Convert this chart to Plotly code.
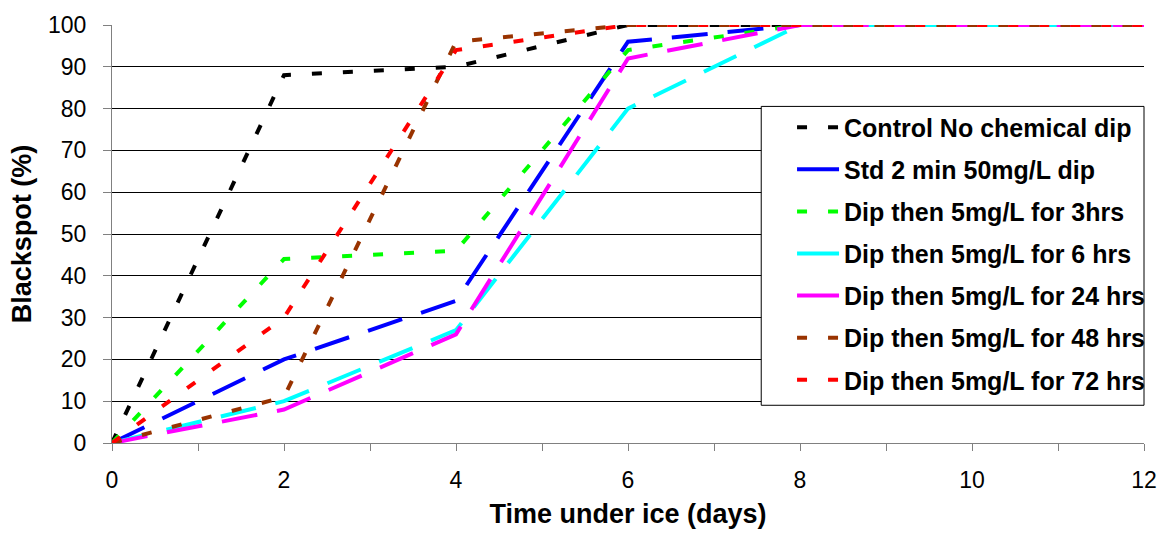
import plotly.graph_objects as go

days = [0, 2, 4, 6, 8, 10, 12]

series_names = [
    "Control No chemical dip",
    "Std 2 min 50mg/L dip",
    "Dip then 5mg/L for 3hrs",
    "Dip then 5mg/L for 6 hrs",
    "Dip then 5mg/L for 24 hrs",
    "Dip then 5mg/L for 48 hrs",
    "Dip then 5mg/L for 72 hrs",
]

control = [0, 88, 90, 100, 100, 100, 100]
std_dip = [0, 20, 34, 96, 100, 100, 100]
dip_3hrs = [0, 44, 46, 94, 100, 100, 100]
dip_6hrs = [0, 10, 27, 80, 100, 100, 100]
dip_24hrs = [0, 8, 26, 92, 100, 100, 100]
dip_48hrs = [0, 11, 96, 100, 100, 100, 100]
dip_72hrs = [0, 30, 94, 100, 100, 100, 100]

values = [control, std_dip, dip_3hrs, dip_6hrs, dip_24hrs, dip_48hrs, dip_72hrs]
colors = ["#000000", "#0000FF", "#00FF00", "#00FFFF", "#FF00FF", "#993300", "#FF0000"]
SHORT = "10px,21px"
LONG = "36px,20px"
dashes = [SHORT, LONG, SHORT, LONG, LONG, SHORT, SHORT]

fig = go.Figure()
for i, (name, vals, col, dsh) in enumerate(zip(series_names, values, colors, dashes)):
    long_dash = dsh == LONG
    fig.add_trace(go.Scatter(
        x=days, y=vals, name=name, mode="lines",
        line=dict(color=col, width=4, dash=dsh),
        legendgroup=f"g{i}", showlegend=not long_dash,
    ))
    if long_dash:
        # legend key: long dashes render as a solid short sample, like the original
        fig.add_trace(go.Scatter(
            x=[None], y=[None], name=name, mode="lines",
            line=dict(color=col, width=4, dash="solid"),
            legendgroup=f"g{i}", showlegend=True, hoverinfo="skip",
        ))

W, H = 1169, 541
L, R, T, B = 112, 19, 22, 98
pw = W - L - R
ph = H - T - B

box_l, box_r, box_t, box_b = 765, 1150, 104, 405

fig.add_shape(
    type="rect", xref="paper", yref="paper", layer="above",
    x0=(box_l - L) / pw, x1=(box_r - L) / pw,
    y0=(T + ph - box_b) / ph, y1=(T + ph - box_t) / ph,
    line=dict(color="black", width=1), fillcolor="white",
)

fig.update_layout(
    width=W, height=H,
    margin=dict(l=L, r=R, t=T, b=B, pad=0),
    paper_bgcolor="white", plot_bgcolor="white",
    font=dict(family="Liberation Sans, Arial, sans-serif", color="black"),
    showlegend=True,
    legend=dict(
        x=(796 - L) / pw, xanchor="left",
        y=(T + ph - 102) / ph, yanchor="top",
        borderwidth=0, bgcolor="rgba(0,0,0,0)",
        font=dict(size=25, family="Liberation Sans, Arial, sans-serif", color="black", weight="bold"),
        tracegroupgap=6.6,
        itemwidth=42,
    ),
    xaxis=dict(
        range=[0, 12], dtick=2, tick0=0,
        showgrid=False, zeroline=False,
        showline=True, linecolor="#808080", linewidth=1,
        ticks="outside", ticklen=7, tickcolor="#808080", tickwidth=1,
        minor=dict(dtick=1, ticks="outside", ticklen=7, tickcolor="#808080", tickwidth=1, showgrid=False),
        tickfont=dict(size=23),
        ticklabelstandoff=9,
        title=dict(text="<b>Time under ice (days)</b>", font=dict(size=27), standoff=12),
        fixedrange=True,
    ),
    yaxis=dict(
        range=[0, 100], dtick=10, tick0=0,
        showgrid=True, gridcolor="black", gridwidth=1.2,
        zeroline=False,
        showline=True, linecolor="#808080", linewidth=1,
        ticks="outside", ticklen=8, tickcolor="#808080", tickwidth=1,
        tickfont=dict(size=23),
        ticklabelstandoff=12,
        title=dict(text="<b>Blackspot (%)</b>", font=dict(size=27), standoff=8),
        fixedrange=True,
    ),
)

fig.write_html("out.html")
